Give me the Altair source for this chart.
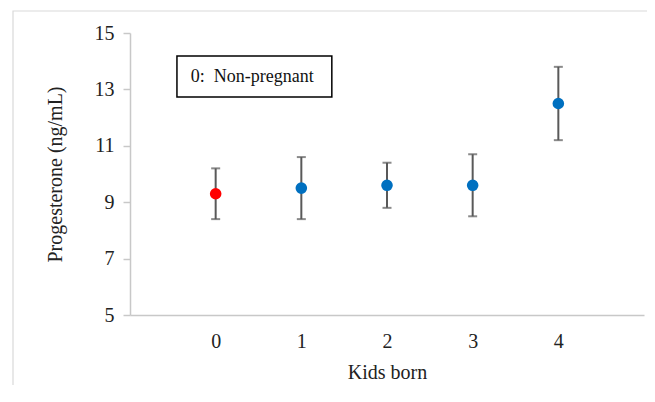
import altair as alt
import pandas as pd

kids = [0, 1, 2, 3, 4]
mean = [9.3, 9.5, 9.6, 9.6, 12.5]
upper = [10.2, 10.6, 10.4, 10.7, 13.8]
lower = [8.4, 8.4, 8.8, 8.5, 11.2]
group = ["Non-pregnant", "Pregnant", "Pregnant", "Pregnant", "Pregnant"]

legend_text = ["0:\u00a0\u00a0Non-pregnant"]

df = pd.DataFrame({"kids": kids, "mean": mean, "upper": upper, "lower": lower, "group": group})

FONT = "Liberation Serif"

xscale = alt.Scale(domain=[-1, 5], nice=False, zero=False)
yscale = alt.Scale(domain=[5, 15], nice=False, zero=False)

base = alt.Chart(df)

frame = alt.Chart(pd.DataFrame({"a": [0]})).mark_rect(
    fill=None, stroke="#d9d9d9", strokeWidth=1.2, clip=False
).encode(
    x=alt.value(-117), x2=alt.value(560), y=alt.value(-22), y2=alt.value(420)
)

rules = base.mark_rule(color="#595959", strokeWidth=2).encode(
    x=alt.X("kids:Q", scale=xscale,
            axis=alt.Axis(title="Kids born", values=kids, format="d", ticks=False, grid=False,
                          domainColor="#c8c8c8", domainWidth=1.5,
                          labelFont=FONT, labelFontSize=20, labelColor="#222",
                          labelPadding=16, titleFont=FONT, titleFontSize=20,
                          titleFontWeight="normal", titleColor="#222", titlePadding=11)),
    y=alt.Y("lower:Q", scale=yscale,
            axis=alt.Axis(title="Progesterone (ng/mL)", values=[5, 7, 9, 11, 13, 15],
                          grid=False, domainColor="#c8c8c8", domainWidth=1.5,
                          tickColor="#c8c8c8", tickSize=7, tickWidth=1.5,
                          labelFont=FONT, labelFontSize=20, labelColor="#222",
                          labelPadding=9, titleFont=FONT, titleFontSize=20,
                          titleFontWeight="normal", titleColor="#222", titlePadding=29)),
    y2="upper:Q",
)

caps_top = base.mark_tick(orient="horizontal", color="#595959", size=9, thickness=2).encode(
    x=alt.X("kids:Q", scale=xscale), y=alt.Y("upper:Q", scale=yscale)
)
caps_bot = base.mark_tick(orient="horizontal", color="#595959", size=9, thickness=2).encode(
    x=alt.X("kids:Q", scale=xscale), y=alt.Y("lower:Q", scale=yscale)
)

points = base.mark_circle(size=135, opacity=1).encode(
    x=alt.X("kids:Q", scale=xscale),
    y=alt.Y("mean:Q", scale=yscale),
    color=alt.Color("group:N", scale=alt.Scale(domain=["Non-pregnant", "Pregnant"],
                                               range=["#ff0000", "#0070c0"]), legend=None),
)

box_df = pd.DataFrame({"x1": [-0.452], "x2": [1.356], "y1": [12.73], "y2": [14.18]})
box = alt.Chart(box_df).mark_rect(fill="white", stroke="black", strokeWidth=1.5).encode(
    x=alt.X("x1:Q", scale=xscale), x2="x2:Q",
    y=alt.Y("y1:Q", scale=yscale), y2="y2:Q",
)
txt_df = pd.DataFrame({"x": [-0.29], "y": [13.45], "t": legend_text})
txt = alt.Chart(txt_df).mark_text(align="left", baseline="middle", font=FONT,
                                  fontSize=18, color="#111").encode(
    x=alt.X("x:Q", scale=xscale), y=alt.Y("y:Q", scale=yscale), text="t:N"
)

chart = alt.layer(frame, rules, caps_top, caps_bot, points, box, txt).properties(
    width=514, height=282,
    autosize=alt.AutoSizeParams(type="none"),
    padding={"left": 122, "top": 25, "right": 3, "bottom": 70},
).configure_view(stroke=None)

chart.save("out.html", embed_options={"renderer": "svg", "actions": False})
